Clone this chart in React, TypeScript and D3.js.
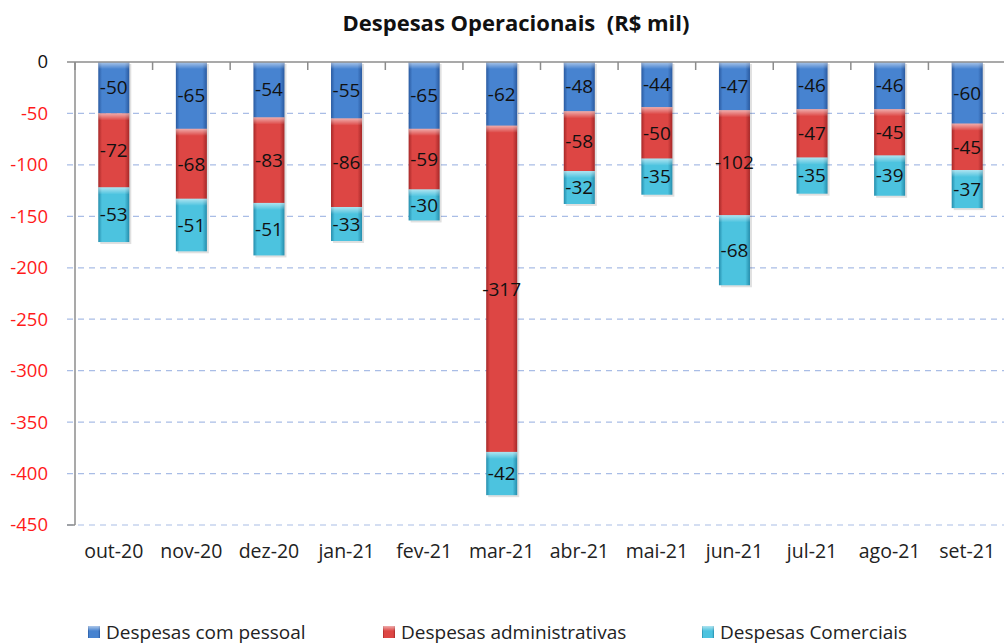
import React from 'react';
import * as d3 from 'd3';

// chart data
const months = ['out-20', 'nov-20', 'dez-20', 'jan-21', 'fev-21', 'mar-21', 'abr-21', 'mai-21', 'jun-21', 'jul-21', 'ago-21', 'set-21'];
const pessoal = [-50, -65, -54, -55, -65, -62, -48, -44, -47, -46, -46, -60];
const administrativas = [-72, -68, -83, -86, -59, -317, -58, -50, -102, -47, -45, -45];
const comerciais = [-53, -51, -51, -33, -30, -42, -32, -35, -68, -35, -39, -37];
const seriesNames = ['Despesas com pessoal', 'Despesas administrativas', 'Despesas Comerciais'];
const yTicks = [0, -50, -100, -150, -200, -250, -300, -350, -400, -450];

const palette = [
  { id: 'gBlue', edge: '#2a5aa0', mid: '#4783d0' },
  { id: 'gRed', edge: '#a62828', mid: '#dd4644' },
  { id: 'gCyan', edge: '#258dac', mid: '#4cc3df' },
];

const FONT = '"Open Sans", Lato, sans-serif';

export default function App() {
  const width = 1004;
  const height = 644;
  const margin = { left: 75, top: 62, right: -2, bottom: 119 };

  const x = d3.scaleBand<string>()
    .domain(months)
    .range([margin.left, width - margin.right])
    .paddingInner(0.6)
    .paddingOuter(0.3);

  const y = d3.scaleLinear()
    .domain([-450, 0])
    .range([height - margin.bottom, margin.top]);

  const allSeries = [pessoal, administrativas, comerciais];
  const table = months.map((m, i) => ({ month: m, s0: pessoal[i], s1: administrativas[i], s2: comerciais[i] }));
  const stacked = d3.stack<any>()
    .keys(['s0', 's1', 's2'])
    .offset(d3.stackOffsetDiverging)(table);

  const step = x.step();
  const x0 = x.range()[0];
  const boundaries = d3.range(months.length + 1).map(i => x0 + i * step);

  return (
    <svg width={width} height={height} style={{ display: 'block', position: 'absolute', left: 0, top: 0 }}>
      <defs>
        {palette.map(p => (
          <linearGradient key={p.id} id={p.id} x1="0" x2="1" y1="0" y2="0">
            <stop offset="0" stopColor={p.edge} />
            <stop offset="0.12" stopColor={p.mid} />
            <stop offset="0.85" stopColor={p.mid} />
            <stop offset="1" stopColor={p.edge} />
          </linearGradient>
        ))}
        <linearGradient id="gTop" x1="0" x2="0" y1="0" y2="1">
          <stop offset="0" stopColor="#fff" stopOpacity={0.55} />
          <stop offset="1" stopColor="#fff" stopOpacity={0} />
        </linearGradient>
      </defs>

      <text x={516} y={31} textAnchor="middle" fontFamily={FONT} fontWeight="bold" fontSize={22} fill="#111" style={{ whiteSpace: 'pre' }}>
        {'Despesas Operacionais  (R$ mil)'}
      </text>

      {/* gridlines */}
      {yTicks.filter(t => t !== 0).map(t => (
        <line key={t} x1={67} x2={width} y1={y(t)} y2={y(t)} stroke="#a9bde6" strokeWidth={1.2} strokeDasharray="6,5" />
      ))}

      {/* left axis */}
      <line x1={margin.left} x2={margin.left} y1={y(0)} y2={y(-450)} stroke="#8c8c8c" strokeWidth={1.5} />
      <line x1={67} x2={margin.left} y1={y(-450)} y2={y(-450)} stroke="#8c8c8c" strokeWidth={1.5} />
      {yTicks.map(t => (
        <text key={t} x={48} y={y(t)} dy="0.35em" textAnchor="end" fontFamily={FONT} fontSize={18.5} fill={t === 0 ? '#111' : '#ff1a1a'}>
          {t}
        </text>
      ))}

      {/* bars */}
      {stacked.map((layer, si) => (
        <g key={si}>
          {layer.map((d, i) => {
            const bx = x(months[i])!;
            const bw = x.bandwidth();
            const top = y(d[1]);
            const bh = y(d[0]) - y(d[1]);
            return (
              <g key={i}>
                <rect x={bx + 2} y={top + 2} width={bw} height={bh} fill="#000" opacity={0.12} />
                <rect x={bx} y={top} width={bw} height={bh} fill={`url(#${palette[si].id})`} />
                <rect x={bx} y={top} width={bw} height={Math.min(7, bh)} fill="url(#gTop)" />
              </g>
            );
          })}
        </g>
      ))}

      {/* value labels */}
      {stacked.map((layer, si) => (
        <g key={si}>
          {layer.map((d, i) => (
            <text key={i} x={x(months[i])! + x.bandwidth() / 2} y={(y(d[0]) + y(d[1])) / 2} dy="0.35em"
              textAnchor="middle" fontFamily={FONT} fontSize={19} fill="#111">
              {allSeries[si][i]}
            </text>
          ))}
        </g>
      ))}

      {/* zero axis */}
      <line x1={67} x2={width} y1={y(0)} y2={y(0)} stroke="#8c8c8c" strokeWidth={1.5} />
      {boundaries.map((b, i) => (
        <line key={i} x1={b} x2={b} y1={y(0)} y2={y(0) + 8} stroke="#8c8c8c" strokeWidth={1.5} />
      ))}

      {/* category labels */}
      {months.map(m => (
        <text key={m} x={x(m)! + x.bandwidth() / 2} y={558} textAnchor="middle" fontFamily={FONT} fontSize={19.5} fill="#222">
          {m}
        </text>
      ))}

      {/* legend */}
      {seriesNames.map((name, i) => {
        const lx = [88, 383, 702][i];
        return (
          <g key={name}>
            <rect x={lx} y={626} width={12} height={12} fill={`url(#${palette[i].id})`} />
            <rect x={lx} y={626} width={12} height={5} fill="url(#gTop)" />
            <text x={lx + 18} y={639} fontFamily={FONT} fontSize={19} fill="#222">{name}</text>
          </g>
        );
      })}
    </svg>
  );
}
